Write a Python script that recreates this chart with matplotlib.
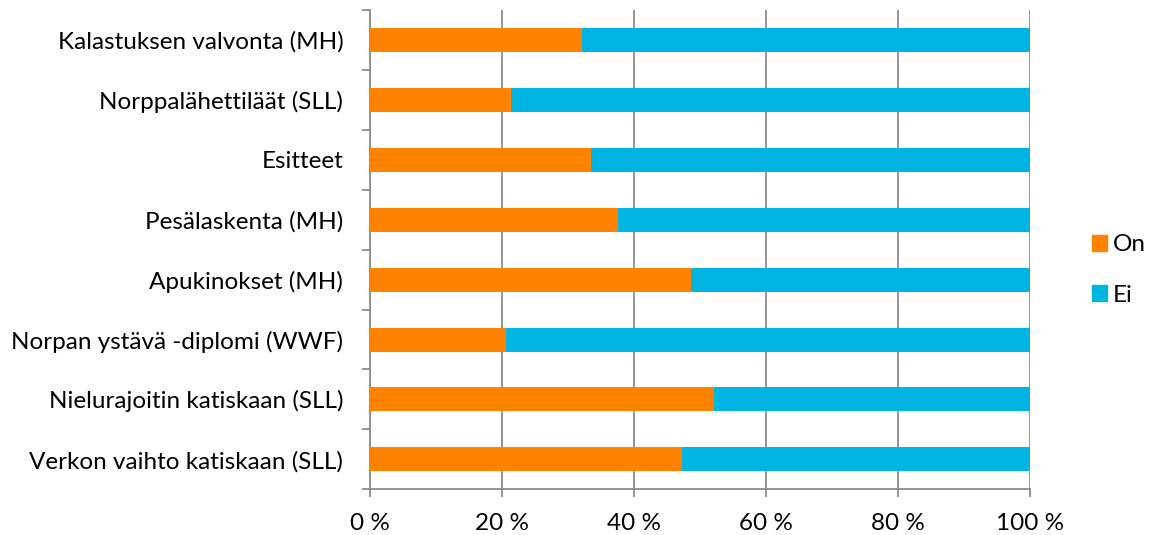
import matplotlib
matplotlib.use("Agg")
import matplotlib.pyplot as plt
from matplotlib.patches import Patch

categories = [
    "Kalastuksen valvonta (MH)",
    "Norppalähettiläät (SLL)",
    "Esitteet",
    "Pesälaskenta (MH)",
    "Apukinokset (MH)",
    "Norpan ystävä -diplomi (WWF)",
    "Nielurajoitin katiskaan (SLL)",
    "Verkon vaihto katiskaan (SLL)",
]
on_values = [32.1, 21.4, 33.5, 37.6, 48.7, 20.6, 52.1, 47.3]
ei_values = [100 - v for v in on_values]
series_names = ["On", "Ei"]
xtick_values = [0, 20, 40, 60, 80, 100]
xtick_labels = ["0 %", "20 %", "40 %", "60 %", "80 %", "100 %"]

c_on = "#FF8200"
c_ei = "#00B5E2"
grid_c = "#8C8C8C"
fs = 17.5

plt.rcParams["font.family"] = ["Lato", "DejaVu Sans"]

fig = plt.figure(figsize=(11.51, 5.35), dpi=100)
ax = fig.add_axes([369.7 / 1151, 1 - 489.3 / 535, 660 / 1151, (489.3 - 10) / 535])

n = len(categories)
ypos = [n - 1 - i for i in range(n)]
ax.barh(ypos, on_values, height=0.4, color=c_on, zorder=3)
ax.barh(ypos, ei_values, left=on_values, height=0.4, color=c_ei, zorder=3)

ax.set_xlim(0, 100)
ax.set_ylim(-0.5, n - 0.5)
ax.set_xticks(xtick_values)
ax.set_xticklabels(xtick_labels, fontsize=fs)
ax.set_yticks(ypos)
ax.set_yticklabels(categories, fontsize=fs)
ax.tick_params(axis="y", length=0, pad=19)
ax.set_yticks([i - 0.5 for i in range(n + 1)], minor=True)
ax.tick_params(axis="y", which="minor", length=6, width=1.3, color=grid_c)
ax.tick_params(axis="x", length=6, width=1.3, color=grid_c, pad=11)

ax.xaxis.grid(True, color=grid_c, linewidth=1.3, zorder=0)
for s in ["top", "right"]:
    ax.spines[s].set_visible(False)
for s in ["left", "bottom"]:
    ax.spines[s].set_color(grid_c)
    ax.spines[s].set_linewidth(1.3)

handles = [Patch(color=c_on), Patch(color=c_ei)]
fig.legend(handles, series_names, loc="center left",
           bbox_to_anchor=(1092 / 1151, 1 - 270 / 535), frameon=False,
           fontsize=fs, handlelength=0.62, handleheight=0.62,
           handletextpad=0.25, labelspacing=1.2, borderpad=0, borderaxespad=0)

fig.savefig("out.png", dpi=100)
